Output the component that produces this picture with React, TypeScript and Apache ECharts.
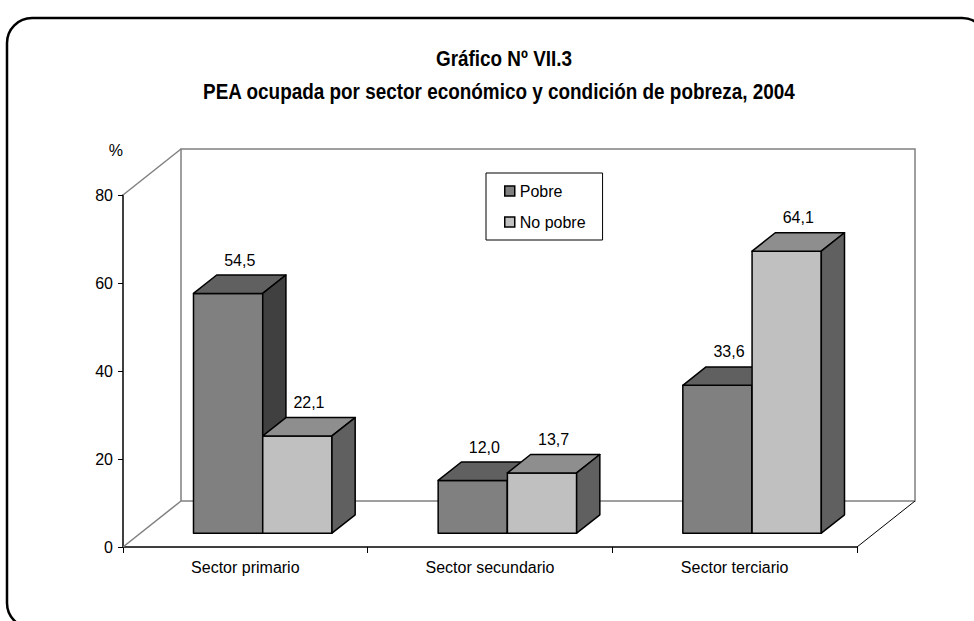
import React, { useEffect, useRef } from "react";
import * as echarts from "echarts";

const categories = ["Sector primario", "Sector secundario", "Sector terciario"];
const seriesNames = ["Pobre", "No pobre"];
const pobre = [54.5, 12.0, 33.6];
const noPobre = [22.1, 13.7, 64.1];
const yTicks = [0, 20, 40, 60, 80];

const FONT = '"Liberation Sans", Arial, sans-serif';
const FS = 16;
const DEPTH_X = 58;
const DEPTH_Y = -46;
const FRONT_FRAC = 0.3;
const THICK_FRAC = 0.4;
const BAR_FRAC = 0.283;

const palette = [
  { front: "#808080", top: "#606060", side: "#404040" },
  { front: "#C0C0C0", top: "#8E8E8E", side: "#606060" },
];

const fmt = (v: number) => v.toFixed(1).replace(".", ",");

function makeBarRender(idx: number) {
  return (params: any, api: any) => {
    const i = api.value(0);
    const v = api.value(1);
    const base = api.coord([i, 0]);
    const top = api.coord([i, v]);
    const band = api.size([1, 0])[0];
    const w = band * BAR_FRAC;
    const sx = DEPTH_X * FRONT_FRAC;
    const sy = DEPTH_Y * FRONT_FRAC;
    const tx = DEPTH_X * THICK_FRAC;
    const ty = DEPTH_Y * THICK_FRAC;
    const xl = base[0] + sx + (idx === 0 ? -w : 0);
    const xr = xl + w;
    const yb = base[1] + sy;
    const yt = top[1] + sy;
    const c = palette[idx];
    const stroke = { stroke: "#000", lineWidth: 1.5, lineJoin: "round" };
    return {
      type: "group",
      children: [
        {
          type: "rect",
          shape: { x: xl, y: yt, width: w, height: yb - yt },
          style: { fill: c.front, ...stroke },
        },
        {
          type: "polygon",
          shape: { points: [[xl, yt], [xr, yt], [xr + tx, yt + ty], [xl + tx, yt + ty]] },
          style: { fill: c.top, ...stroke },
        },
        {
          type: "polygon",
          shape: { points: [[xr, yt], [xr, yb], [xr + tx, yb + ty], [xr + tx, yt + ty]] },
          style: { fill: c.side, ...stroke },
        },
        {
          type: "text",
          style: {
            text: fmt(v),
            x: (xl + xr) / 2 + tx / 2,
            y: yt + ty - 15,
            align: "center",
            verticalAlign: "middle",
            textAlign: "center",
            textVerticalAlign: "middle",
            fontFamily: FONT,
            fontSize: FS,
            fill: "#000",
          },
        },
      ],
    };
  };
}

function renderWalls(params: any, api: any) {
  const cs = params.coordSys;
  const x0 = cs.x;
  const x1 = cs.x + cs.width;
  const yT = cs.y;
  const y0 = cs.y + cs.height;
  const grey = { stroke: "#808080", lineWidth: 1.5, fill: "none" };
  return {
    type: "group",
    children: [
      {
        type: "polyline",
        shape: {
          points: [
            [x0 + DEPTH_X, y0 + DEPTH_Y],
            [x0 + DEPTH_X, yT + DEPTH_Y],
            [x1 + DEPTH_X, yT + DEPTH_Y],
            [x1 + DEPTH_X, y0 + DEPTH_Y],
            [x0 + DEPTH_X, y0 + DEPTH_Y],
          ],
        },
        style: grey,
      },
      { type: "line", shape: { x1: x0, y1: yT, x2: x0 + DEPTH_X, y2: yT + DEPTH_Y }, style: grey },
      { type: "line", shape: { x1: x0, y1: y0, x2: x0 + DEPTH_X, y2: y0 + DEPTH_Y }, style: grey },
      {
        type: "line",
        shape: { x1: x1, y1: y0, x2: x1 + DEPTH_X, y2: y0 + DEPTH_Y },
        style: { stroke: "#000", lineWidth: 1 },
      },
    ],
  };
}

const titleStyle = (text: string) => ({
  text,
  align: "center",
  verticalAlign: "middle",
  textAlign: "center",
  textVerticalAlign: "middle",
  fontFamily: FONT,
  fontWeight: "bold",
  fontSize: 22,
  fill: "#000",
});

export default function App() {
  const ref = useRef<HTMLDivElement>(null);
  useEffect(() => {
    if (!ref.current) return;
    const chart = echarts.init(ref.current, undefined, { renderer: "svg" });
    const labelStyle = { fontFamily: FONT, fontSize: FS, color: "#000" };
    chart.setOption({
      animation: false,
      backgroundColor: "#fff",
      color: [palette[0].front, palette[1].front],
      graphic: [
        {
          type: "rect",
          shape: { x: 7, y: 18, width: 980, height: 610, r: 25 },
          style: { fill: "none", stroke: "#000", lineWidth: 2.5 },
          z: 100,
        },
        {
          type: "text",
          x: 504,
          y: 58,
          scaleX: 0.86,
          style: titleStyle("Gráfico Nº VII.3"),
        },
        {
          type: "text",
          x: 499,
          y: 91,
          scaleX: 0.86,
          style: titleStyle("PEA ocupada por sector económico y condición de pobreza, 2004"),
        },
      ],
      legend: {
        data: seriesNames,
        orient: "vertical",
        left: 486,
        top: 173,
        icon: "rect",
        itemWidth: 10,
        itemHeight: 10,
        itemGap: 11,
        padding: [8, 17, 8, 18],
        borderColor: "#000",
        borderWidth: 1,
        backgroundColor: "#fff",
        itemStyle: { borderColor: "#000", borderWidth: 1.5 },
        textStyle: { ...labelStyle, lineHeight: 20 },
        selectedMode: false,
      },
      grid: { left: 123, top: 195, width: 734, height: 352, containLabel: false },
      xAxis: {
        type: "category",
        data: categories,
        axisLine: { lineStyle: { color: "#000", width: 1.5 } },
        axisTick: { show: true, length: 6, lineStyle: { color: "#000", width: 1 } },
        axisLabel: { ...labelStyle, margin: 12 },
        splitLine: { show: false },
      },
      yAxis: {
        type: "value",
        min: yTicks[0],
        max: yTicks[yTicks.length - 1],
        interval: 20,
        name: "%",
        nameLocation: "end",
        nameGap: 37,
        nameTextStyle: { ...labelStyle, align: "right" },
        axisLine: { show: true, lineStyle: { color: "#000", width: 1.5 } },
        axisTick: { show: true, length: 5, lineStyle: { color: "#000", width: 1 } },
        axisLabel: { ...labelStyle, margin: 10 },
        splitLine: { show: false },
      },
      series: [
        {
          type: "custom",
          name: "walls",
          renderItem: renderWalls,
          data: [[0, 0]],
          silent: true,
          z: 1,
        },
        {
          type: "custom",
          name: seriesNames[0],
          renderItem: makeBarRender(0),
          data: categories.map((_, i) => [i, pobre[i]]),
          encode: { x: 0, y: 1 },
          itemStyle: { color: palette[0].front, borderColor: "#000" },
          z: 2,
        },
        {
          type: "custom",
          name: seriesNames[1],
          renderItem: makeBarRender(1),
          data: categories.map((_, i) => [i, noPobre[i]]),
          encode: { x: 0, y: 1 },
          itemStyle: { color: palette[1].front, borderColor: "#000" },
          z: 3,
        },
      ],
    });
    return () => chart.dispose();
  }, []);
  return (
    <div
      ref={ref}
      style={{ position: "fixed", left: 0, top: 0, width: 974, height: 621, background: "#fff" }}
    />
  );
}
